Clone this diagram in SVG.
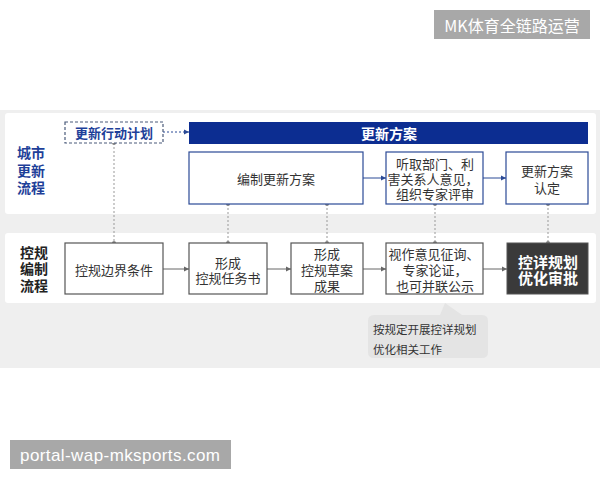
<svg xmlns="http://www.w3.org/2000/svg" width="600" height="480" viewBox="0 0 600 480">
<defs>
<style>
text{font-family:"Noto Sans CJK SC","Noto Sans",sans-serif;dominant-baseline:central;text-anchor:middle}
.t{font-size:13px;fill:#333}
.ub{fill:#fff;stroke:#2b4a96;stroke-width:1.2}
.lb{fill:#fff;stroke:#555;stroke-width:1.2}
.dot{stroke:#999;stroke-width:1;stroke-dasharray:2 2;fill:none}
.pt{fill:#888}
.ar{stroke:#666;stroke-width:1;fill:none}
.arb{stroke:#2b4a96;stroke-width:1;fill:none}
</style>
<marker id="ag" markerWidth="6" markerHeight="6" refX="5" refY="3" orient="auto" markerUnits="userSpaceOnUse"><path d="M0,0.5 L5,3 L0,5.5z" fill="#666"/></marker>
<marker id="ab" markerWidth="6" markerHeight="6" refX="5" refY="3" orient="auto" markerUnits="userSpaceOnUse"><path d="M0,0.5 L5,3 L0,5.5z" fill="#2b4a96"/></marker>
</defs>
<rect width="600" height="480" fill="#fff"/>
<rect x="0" y="110" width="600" height="258" fill="#efefef"/>
<rect x="5" y="113" width="591" height="101" rx="3" fill="#fff"/>
<rect x="5" y="233" width="591" height="70" rx="3" fill="#fff"/>
<g id="title-upper"><text x="31" y="152" style="font-size:14px;font-weight:bold;fill:#1e3f99">城市</text><text x="31" y="170" style="font-size:14px;font-weight:bold;fill:#1e3f99">更新</text><text x="31" y="187" style="font-size:14px;font-weight:bold;fill:#1e3f99">流程</text></g>
<g id="title-lower"><text x="34" y="252" style="font-size:14px;font-weight:bold;fill:#222">控规</text><text x="34" y="268" style="font-size:14px;font-weight:bold;fill:#222">编制</text><text x="34" y="285" style="font-size:14px;font-weight:bold;fill:#222">流程</text></g>
<g id="connectors">
<path class="dot" d="M163,132 H189" marker-end="url(#ab)" style="stroke:#2b4a96"/>
<path class="dot" d="M114,143 V243"/>
<path class="dot" d="M228,204 V243"/>
<path class="dot" d="M327,204 V243"/>
<path class="dot" d="M435,204 V243"/>
<path class="dot" d="M548,204 V243"/>
<circle class="pt" cx="114" cy="143" r="2"/><circle class="pt" cx="114" cy="243" r="2"/>
<circle class="pt" cx="228" cy="204" r="2"/><circle class="pt" cx="228" cy="243" r="2"/>
<circle class="pt" cx="327" cy="204" r="2"/><circle class="pt" cx="327" cy="243" r="2"/>
<circle class="pt" cx="435" cy="204" r="2"/><circle class="pt" cx="435" cy="243" r="2"/>
<circle class="pt" cx="548" cy="204" r="2"/><circle class="pt" cx="548" cy="243" r="2"/>
<path class="arb" d="M363,178 H386" marker-end="url(#ab)"/>
<path class="arb" d="M483,178 H506" marker-end="url(#ab)"/>
<path class="ar" d="M163,269 H189" marker-end="url(#ag)"/>
<path class="ar" d="M267,269 H291" marker-end="url(#ag)"/>
<path class="ar" d="M363,269 H386" marker-end="url(#ag)"/>
<path class="ar" d="M483,269 H507" marker-end="url(#ag)"/>
</g>
<g id="action-plan"><rect x="65" y="122" width="98" height="21" fill="#fff" stroke="#4a5a7a" stroke-width="1.2" stroke-dasharray="3 2"/><text x="114" y="132" style="font-size:13px;font-weight:bold;fill:#1e3f99">更新行动计划</text></g>
<g id="banner"><rect x="189" y="122" width="399" height="22" fill="#0c2d91"/><text x="389" y="133" style="font-size:14px;font-weight:bold;fill:#fff">更新方案</text></g>
<g id="u1"><rect class="ub" x="189" y="152" width="174" height="52"/><text class="t" x="276" y="178">编制更新方案</text></g>
<g id="u2"><rect class="ub" x="386" y="152" width="97" height="52"/><text class="t" x="435" y="163">听取部门、利</text><text class="t" x="433" y="178">害关系人意见，</text><text class="t" x="435" y="193">组织专家评审</text></g>
<g id="u3"><rect class="ub" x="506" y="152" width="82" height="52"/><text class="t" x="547" y="170">更新方案</text><text class="t" x="547" y="187">认定</text></g>
<g id="l1"><rect class="lb" x="65" y="243" width="98" height="51"/><text class="t" x="114" y="269">控规边界条件</text></g>
<g id="l2"><rect class="lb" x="189" y="243" width="78" height="51"/><text class="t" x="228" y="262">形成</text><text class="t" x="228" y="277">控规任务书</text></g>
<g id="l3"><rect class="lb" x="291" y="243" width="72" height="51"/><text class="t" x="327" y="253">形成</text><text class="t" x="327" y="269">控规草案</text><text class="t" x="327" y="285">成果</text></g>
<g id="l4"><rect class="lb" x="386" y="243" width="97" height="51"/><text class="t" x="434" y="253">视作意见征询、</text><text class="t" x="435" y="269">专家论证，</text><text class="t" x="435" y="285">也可并联公示</text></g>
<g id="l5"><rect x="507" y="243" width="81" height="51" fill="#3a3a3a" stroke="#555" stroke-width="1"/><text x="548" y="261" style="font-size:15px;font-weight:bold;fill:#fff">控详规划</text><text x="548" y="277" style="font-size:15px;font-weight:bold;fill:#fff">优化审批</text></g>
<g id="callout"><path d="M374,315 H440 L445,303 L462,315 H482 Q488,315 488,321 V352 Q488,358 482,358 H374 Q368,358 368,352 V321 Q368,315 374,315z" fill="#e4e4e4"/><text x="373" y="329" style="font-size:11.5px;fill:#333;text-anchor:start">按规定开展控详规划</text><text x="373" y="349" style="font-size:11.5px;fill:#333;text-anchor:start">优化相关工作</text></g>
<g id="wm1"><rect x="434" y="10" width="156" height="29" fill="#a8a8a8"/><text x="512" y="25" style="font-size:16px;fill:#fff">MK体育全链路运营</text></g>
<g id="wm2"><rect x="10" y="440" width="221" height="29" fill="#a8a8a8"/><text x="120" y="455" textLength="200" style="font-size:17px;fill:#fff;font-family:'Liberation Sans',sans-serif">portal-wap-mksports.com</text></g>
</svg>
